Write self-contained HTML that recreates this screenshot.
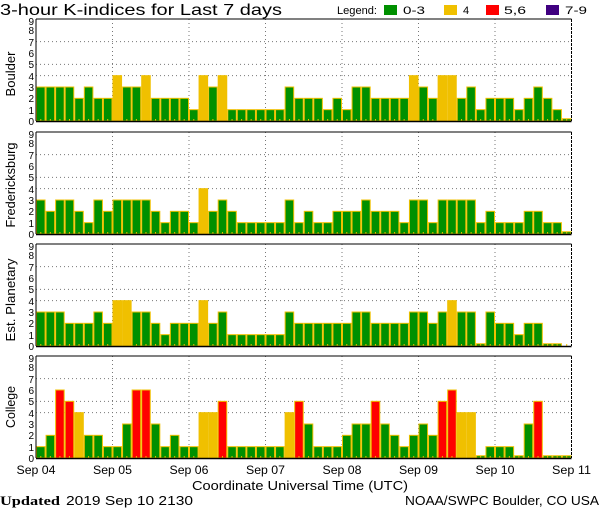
<!DOCTYPE html>
<html><head><meta charset="utf-8"><style>
html,body{margin:0;padding:0;background:#fff;width:600px;height:510px;overflow:hidden}
svg{display:block}
text{font-family:"Liberation Sans",sans-serif;fill:#000}
.t{font-size:10px}
.yl{font-size:13px}
.ax{font-size:12px}
</style></head><body>
<svg id="s" width="600" height="510" xmlns="http://www.w3.org/2000/svg">
<text x="0" y="15" style="font-size:16px" textLength="282" lengthAdjust="spacingAndGlyphs">3-hour K-indices for Last 7 days</text>
<text x="337" y="14" style="font-size:11px" textLength="40" lengthAdjust="spacingAndGlyphs">Legend:</text>
<rect x="384" y="5" width="13" height="10" fill="#009000"/><text x="403" y="14" style="font-size:11px" textLength="22" lengthAdjust="spacingAndGlyphs">0-3</text>
<rect x="444" y="5" width="13" height="10" fill="#f0c000"/><text x="463" y="14" style="font-size:11px">4</text>
<rect x="486" y="5" width="13" height="10" fill="#ff0000"/><text x="504" y="14" style="font-size:11px" textLength="22" lengthAdjust="spacingAndGlyphs">5,6</text>
<rect x="546" y="5" width="13" height="10" fill="#400080"/><text x="565" y="14" style="font-size:11px" textLength="22" lengthAdjust="spacingAndGlyphs">7-9</text>
<g id="bars"></g>
<g class="t" text-anchor="end">
<g transform="translate(0,121)"><text x="34" y="4">0</text><text x="34" y="-7">1</text><text x="34" y="-19">2</text><text x="34" y="-30">3</text><text x="34" y="-41">4</text><text x="34" y="-53">5</text><text x="34" y="-64">6</text><text x="34" y="-75">7</text><text x="34" y="-87">8</text><text x="34" y="-96">9</text></g>
<g transform="translate(0,234)"><text x="34" y="4">0</text><text x="34" y="-7">1</text><text x="34" y="-19">2</text><text x="34" y="-30">3</text><text x="34" y="-41">4</text><text x="34" y="-53">5</text><text x="34" y="-64">6</text><text x="34" y="-75">7</text><text x="34" y="-87">8</text><text x="34" y="-96">9</text></g>
<g transform="translate(0,346)"><text x="34" y="4">0</text><text x="34" y="-7">1</text><text x="34" y="-19">2</text><text x="34" y="-30">3</text><text x="34" y="-41">4</text><text x="34" y="-53">5</text><text x="34" y="-64">6</text><text x="34" y="-75">7</text><text x="34" y="-87">8</text><text x="34" y="-96">9</text></g>
<g transform="translate(0,458)"><text x="34" y="4">0</text><text x="34" y="-7">1</text><text x="34" y="-19">2</text><text x="34" y="-30">3</text><text x="34" y="-41">4</text><text x="34" y="-53">5</text><text x="34" y="-64">6</text><text x="34" y="-75">7</text><text x="34" y="-87">8</text><text x="34" y="-96">9</text></g>
</g>
<g class="yl" text-anchor="middle">
<text transform="translate(15,74) rotate(-90)" textLength="45" lengthAdjust="spacingAndGlyphs">Boulder</text>
<text transform="translate(15,185) rotate(-90)" textLength="85" lengthAdjust="spacingAndGlyphs">Fredericksburg</text>
<text transform="translate(15,300) rotate(-90)" textLength="83" lengthAdjust="spacingAndGlyphs">Est. Planetary</text>
<text transform="translate(15,407) rotate(-90)" textLength="42" lengthAdjust="spacingAndGlyphs">College</text>
</g>
<g class="ax" text-anchor="middle">
<text x="36" y="474" textLength="39" lengthAdjust="spacingAndGlyphs">Sep 04</text><text x="112.5" y="474" textLength="39" lengthAdjust="spacingAndGlyphs">Sep 05</text><text x="189" y="474" textLength="39" lengthAdjust="spacingAndGlyphs">Sep 06</text><text x="265.5" y="474" textLength="39" lengthAdjust="spacingAndGlyphs">Sep 07</text><text x="342" y="474" textLength="39" lengthAdjust="spacingAndGlyphs">Sep 08</text><text x="418.5" y="474" textLength="39" lengthAdjust="spacingAndGlyphs">Sep 09</text><text x="495" y="474" textLength="39" lengthAdjust="spacingAndGlyphs">Sep 10</text><text x="571.5" y="474" textLength="39" lengthAdjust="spacingAndGlyphs">Sep 11</text>
<text x="300" y="490" style="font-size:13px" textLength="216" lengthAdjust="spacingAndGlyphs">Coordinate Universal Time (UTC)</text>
</g>
<text x="0" y="505" style="font-size:13px;font-family:'Liberation Serif',serif;font-weight:bold" textLength="60" lengthAdjust="spacingAndGlyphs">Updated</text>
<text x="66" y="505" style="font-size:13px" textLength="127" lengthAdjust="spacingAndGlyphs">2019 Sep 10 2130</text>
<text x="405" y="505" style="font-size:13px" textLength="194" lengthAdjust="spacingAndGlyphs">NOAA/SWPC Boulder, CO USA</text>
</svg>
<script>
var D=[
[3,3,3,3,2,3,2,2, 4,3,3,4,2,2,2,2, 1,4,3,4,1,1,1,1, 1,1,3,2,2,2,1,2, 1,3,3,2,2,2,2,4, 3,2,4,4,2,3,1,2, 2,2,1,2,3,2,1,0.2],
[3,2,3,3,2,1,3,2, 3,3,3,3,2,1,2,2, 1,4,2,3,2,1,1,1, 1,1,3,1,2,1,1,2, 2,2,3,2,2,2,1,3, 3,1,3,3,3,3,1,2, 1,1,1,2,2,1,1,0.2],
[3,3,3,2,2,2,3,2, 4,4,3,3,2,1,2,2, 2,4,2,3,1,1,1,1, 1,1,3,2,2,2,2,2, 2,3,3,2,2,2,2,3, 3,2,3,4,3,3,0.2,3, 2,2,1,2,2,0.2,0.2,0],
[1,2,6,5,4,2,2,1, 1,3,6,6,3,1,2,1, 1,4,4,5,1,1,1,1, 1,1,4,5,3,1,1,1, 2,3,3,5,3,2,1,2, 3,2,5,6,4,4,0.2,1, 1,1,0.2,3,5,0.2,0.2,0.2]];
var tops=[19,132,244,356],L=36,R=571.5,H=102,u=H/9,bw=(R-L)/56;
var g=document.getElementById('bars'),h='';
function col(v){return v>=7?'#400080':v>=5?'#ff0000':v>=4?'#f0c000':'#009000';}
for(var p=0;p<4;p++){
 var t=tops[p],b=t+H;
 [4,5,7].forEach(function(k){var y=b-k*u;h+='<line x1="'+L+'" x2="'+R+'" y1="'+y+'" y2="'+y+'" stroke="#777" stroke-dasharray="1,3"/>';});
 for(var d=1;d<7;d++){var x=L+d*8*bw;h+='<line x1="'+x+'" x2="'+x+'" y1="'+t+'" y2="'+b+'" stroke="#777" stroke-dasharray="1,3"/>';}
 for(var i=0;i<56;i++){var v=D[p][i],x=L+i*bw;
  if(v>0){var hh=v*u;h+='<rect x="'+(x+0.5)+'" y="'+(b-hh)+'" width="'+(bw-1)+'" height="'+hh+'" fill="'+col(v)+'" stroke="#f0c000" stroke-width="1"/>';}
  h+='<line x1="'+(x+bw/2)+'" x2="'+(x+bw/2)+'" y1="'+(b-2)+'" y2="'+b+'" stroke="#f0c000"/>';}
 h+='<line x1="'+L+'" x2="'+R+'" y1="'+t+'" y2="'+t+'" stroke="#000" stroke-width="1"/>';
 h+='<line x1="'+L+'" x2="'+R+'" y1="'+(b+0.5)+'" y2="'+(b+0.5)+'" stroke="#000" stroke-width="1.5"/>';
 h+='<line x1="'+L+'" x2="'+L+'" y1="'+t+'" y2="'+b+'" stroke="#000" stroke-width="1"/>';
 h+='<line x1="'+R+'" x2="'+R+'" y1="'+t+'" y2="'+b+'" stroke="#000" stroke-width="1" stroke-dasharray="3,1"/>';
}
g.innerHTML=h;
</script>
</body></html>
